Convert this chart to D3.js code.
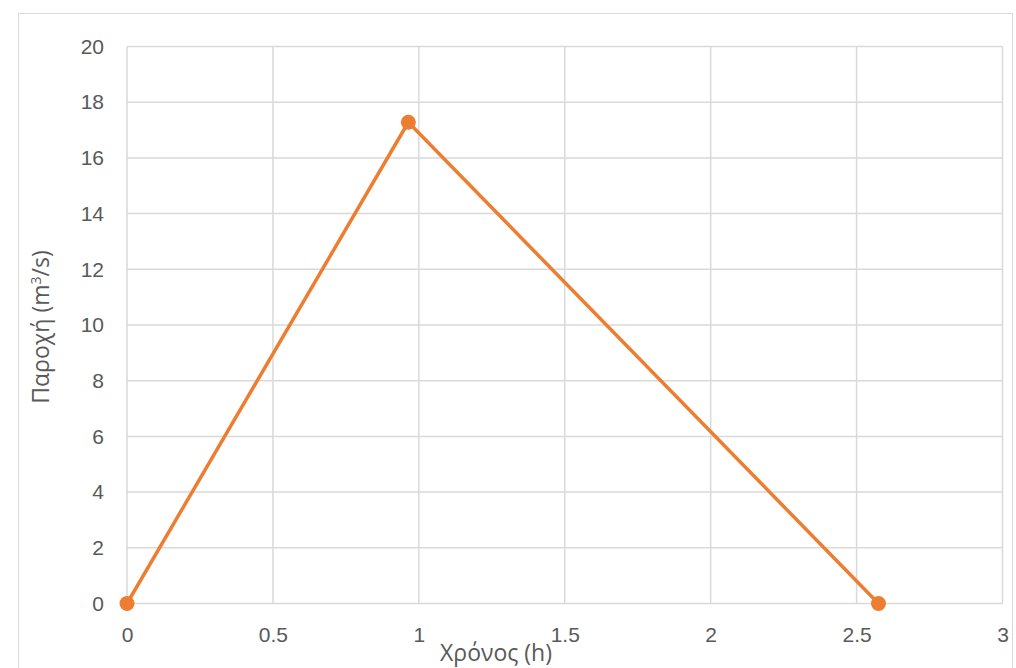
<!DOCTYPE html>
<html>
<head>
<meta charset="UTF-8">
<title>Παροχή</title>
<script src="https://cdn.jsdelivr.net/npm/d3@7"></script>
<style>
    body { margin: 0; background: #fff; }
    svg { font-family: "Open Sans", "Liberation Sans", sans-serif; }
    .tick text { fill: #595959; font-size: 21px; }
    .title { fill: #595959; font-size: 23px; }
</style>
</head>
<body>
<script>
    // hydrograph points (time in h, discharge in m3/s)
    var times = [0, 0.964, 2.575];
    var flows = [0, 17.28, 0];
    var xTicks = [0, 0.5, 1, 1.5, 2, 2.5, 3];
    var yTicks = [0, 2, 4, 6, 8, 10, 12, 14, 16, 18, 20];

    var W = 1016, H = 668;
    var plotL = 127, plotR = 1002.5, plotT = 46.5, plotB = 603.5;

    var svg = d3.select("body").append("svg")
        .attr("width", W)
        .attr("height", H);

    svg.append("rect")
        .attr("x", 18.5).attr("y", 13.5)
        .attr("width", 994).attr("height", 670)
        .attr("fill", "#fff")
        .attr("stroke", "#d9d9d9");

    var x = d3.scaleLinear().domain([0, 3]).range([plotL, plotR]);
    var y = d3.scaleLinear().domain([0, 20]).range([plotB, plotT]);

    // gridlines
    svg.append("g").selectAll("line").data(xTicks).join("line")
        .attr("x1", d => x(d)).attr("x2", d => x(d))
        .attr("y1", plotT).attr("y2", plotB)
        .attr("stroke", "#d9d9d9").attr("stroke-width", 1.5);
    svg.append("g").selectAll("line").data(yTicks).join("line")
        .attr("x1", plotL).attr("x2", plotR)
        .attr("y1", d => y(d)).attr("y2", d => y(d))
        .attr("stroke", "#d9d9d9").attr("stroke-width", 1.5);

    var xAxis = svg.append("g")
        .attr("transform", "translate(0," + plotB + ")")
        .call(d3.axisBottom(x).tickValues(xTicks).tickSize(0).tickPadding(24).tickFormat(d3.format("")));
    xAxis.select(".domain").remove();

    var yAxis = svg.append("g")
        .attr("transform", "translate(" + plotL + ",0)")
        .call(d3.axisLeft(y).tickValues(yTicks).tickSize(0).tickPadding(23));
    yAxis.select(".domain").remove();

    var pts = times.map((t, i) => [t, flows[i]]);
    svg.append("path")
        .datum(pts)
        .attr("fill", "none")
        .attr("stroke", "#ED7D31")
        .attr("stroke-width", 3.5)
        .attr("stroke-linejoin", "round")
        .attr("d", d3.line().x(d => x(d[0])).y(d => y(d[1])));

    svg.append("g").selectAll("circle").data(pts).join("circle")
        .attr("cx", d => x(d[0])).attr("cy", d => y(d[1]))
        .attr("r", 7.5)
        .attr("fill", "#ED7D31");

    svg.append("text")
        .attr("class", "title")
        .attr("x", 496).attr("y", 661)
        .attr("text-anchor", "middle")
        .text("Χρόνος (h)");

    var yt = svg.append("text")
        .attr("class", "title")
        .attr("transform", "translate(49,327) rotate(-90)")
        .attr("text-anchor", "middle");
    yt.append("tspan").text("Παροχή (m");
    yt.append("tspan").attr("dy", -8).attr("font-size", 14).text("3");
    yt.append("tspan").attr("dy", 8).text("/s)");
</script>
</body>
</html>
